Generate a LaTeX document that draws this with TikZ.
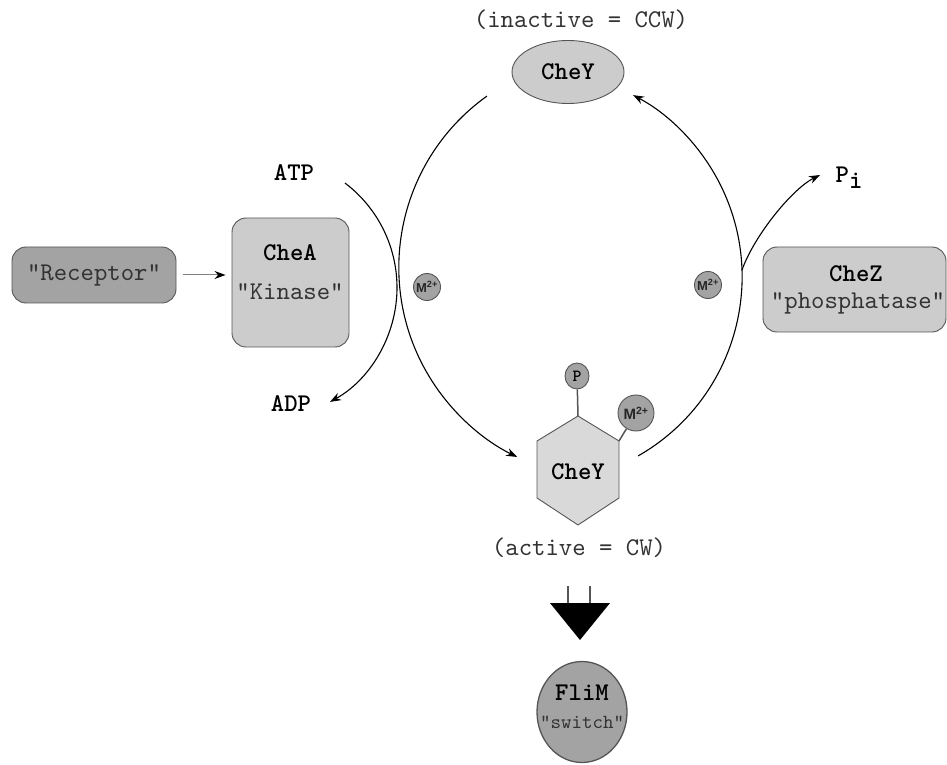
\documentclass[tikz,border=0pt]{standalone}
\usepackage{fontspec}
\setmonofont{lmmono10-regular}[Extension=.otf, BoldFont=lmmonolt10-bold]
\newfontfamily\msans{Liberation Sans}
\usetikzlibrary{arrows.meta,shapes.geometric,calc}
\definecolor{fillA}{HTML}{CCCCCC}
\definecolor{fillB}{HTML}{A3A3A3}
\definecolor{fillH}{HTML}{D9D9D9}
\definecolor{edgec}{HTML}{555555}
\definecolor{txtgray}{HTML}{333333}
\begin{document}
\begin{tikzpicture}[x=1pt,y=1pt,
  lbl/.style={font=\ttfamily\fontsize{25.5}{28}\selectfont, text=txtgray, inner sep=0pt},
  blbl/.style={font=\ttfamily\bfseries\fontsize{25.5}{28}\selectfont, text=black, inner sep=0pt},
  box/.style={draw=edgec, line width=0.9pt, rounded corners=14pt, inner sep=0pt},
  metal/.style={circle, draw=edgec, fill=fillB, line width=0.9pt, minimum size=27pt, inner sep=0pt, text=black!85, font=\msans\bfseries\fontsize{13}{13}\selectfont},
  conn/.style={line width=1.1pt, -{Stealth[length=11pt,width=8pt]}},
]
\useasboundingbox (0,0) rectangle (947,764);

% top inactive CheY
\node[lbl] (inact) at (581,744) {(inactive = CCW)};
\node[ellipse, draw=edgec, fill=fillA, line width=0.9pt, minimum width=112pt, minimum height=63pt, inner sep=0pt, font=\ttfamily\bfseries\fontsize{25.5}{28}\selectfont] (cheYi) at (568,692) {CheY};

% receptor and CheA
\node[box, fill=fillB, minimum width=164pt, minimum height=56pt, lbl] (rec) at (94,489) {"Receptor"};
\node[box, fill=fillA, minimum width=117pt, minimum height=129pt] (cheA) at (290.5,481.5) {};
\node[blbl] (cheAt) at (290,511) {CheA};
\node[lbl] (kin) at (290,472) {"Kinase"};
\draw[draw=gray, line width=1pt, -{Stealth[length=11pt,width=8pt,color=black]}, shorten <=7pt, shorten >=6pt] (rec.east) -- (rec.east -| cheA.west);

% CheZ
\node[box, fill=fillA, minimum width=183pt, minimum height=85pt] (cheZ) at (854.5,474.5) {};
\node[blbl] (cheZt) at (856,490) {CheZ};
\node[lbl] (phos) at (858,461) {"phosphatase"};

% ATP / ADP / Pi
\node[blbl] (atp) at (294,591) {ATP};
\node[blbl] (adp) at (291,360) {ADP};
\node[blbl] (pi) at (849,586) {P\raisebox{-6pt}{i}};

% metal ions
\node[metal] (m1) at (427,477) {M\textsuperscript{2+}};
\node[metal] (m2) at (708,479) {M\textsuperscript{2+}};

% active CheY hexagon
\coordinate (htop) at (578,348);
\coordinate (hur) at (619,323);
\coordinate (hlr) at (619,266);
\coordinate (hbot) at (578,239);
\coordinate (hll) at (537,266);
\coordinate (hul) at (537,323);
\draw[draw=edgec, fill=fillH, line width=0.9pt] (htop) -- (hur) -- (hlr) -- (hbot) -- (hll) -- (hul) -- cycle;
\node[blbl] (cheYa) at (578,292) {CheY};
\node[ellipse, draw=edgec, fill=fillB, line width=0.9pt, minimum width=24pt, minimum height=26pt, inner sep=0pt, font=\ttfamily\bfseries\fontsize{17}{17}\selectfont] (pgrp) at (577,388) {P};
\draw[draw=edgec, line width=1.5pt] (htop) -- (pgrp);
\node[metal, minimum size=36pt, font=\msans\bfseries\fontsize{15}{15}\selectfont] (m3) at (636,351) {M\textsuperscript{2+}};
\draw[draw=edgec, line width=1.5pt] (hur) -- (m3);
\node[lbl] (act) at (579,216) {(active = CW)};

% reaction arcs
\coordinate (lS) at ($(609.6,496.5)+(125.6:210.8)$);
\draw[conn] (lS) arc[start angle=125.6, end angle=244, radius=210.8];
\coordinate (aS) at ($(265.9,476.4)+(52.9:131.1)$);
\draw[conn] (aS) arc[start angle=52.9, end angle=-60.7, radius=131.1];
\coordinate (rS) at ($(536,487.1)+(-60.3:206.1)$);
\draw[conn] (rS) arc[start angle=-60.3, end angle=61.9, radius=206.1];
\coordinate (piS) at (742,494);
\coordinate (piE) at (820,589);
\draw[conn] (piS) .. controls (754,528) and (792,575) .. (piE);

% big arrow to FliM
\draw[draw=edgec, line width=2.5pt] (568,178) -- (568,160);
\draw[draw=edgec, line width=2.5pt] (590,178) -- (590,160);
\coordinate (btip) at (580,124);
\fill[black] (550,161) -- (610,161) -- (btip) -- cycle;

% FliM
\node[ellipse, draw=edgec, fill=fillB, line width=1.3pt, minimum width=90pt, minimum height=101pt, inner sep=0pt] (flim) at (582,52) {};
\node[blbl] (flimt) at (582,71) {FliM};
\node[font=\ttfamily\fontsize{20}{22}\selectfont, text=txtgray, inner sep=0pt] (sw) at (582,42) {"switch"};
\end{tikzpicture}
\end{document}
